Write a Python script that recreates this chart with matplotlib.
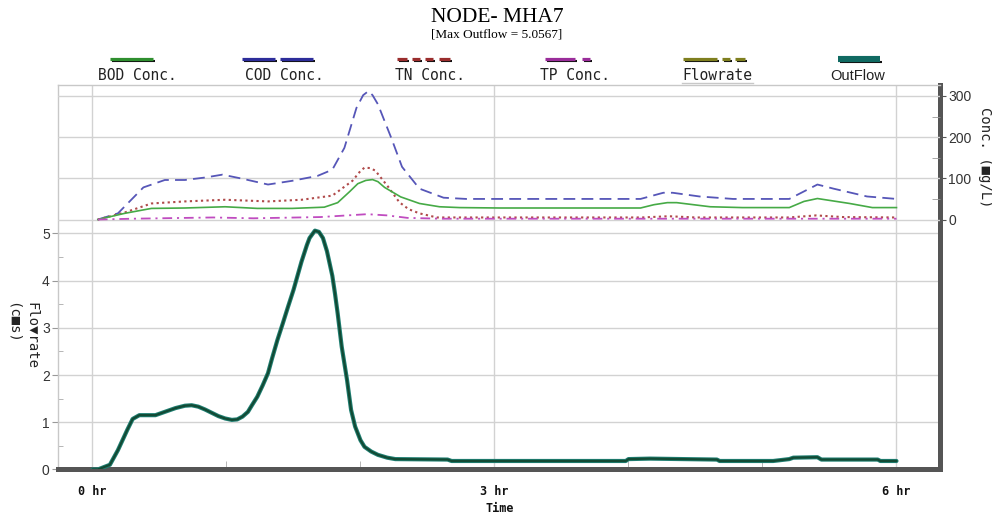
import matplotlib
matplotlib.use("Agg")
import matplotlib.pyplot as plt

# ---- data ----
# OutFlow (cms) against time (hr)
flow_time = [0, 0.04, 0.13, 0.19, 0.26, 0.30, 0.35, 0.40, 0.47, 0.54, 0.62, 0.69,
             0.74, 0.79, 0.84, 0.89, 0.94, 0.99, 1.04, 1.08, 1.12, 1.16, 1.19, 1.23,
             1.27, 1.31, 1.34, 1.38, 1.42, 1.46, 1.50, 1.53, 1.56, 1.60, 1.62, 1.66,
             1.69, 1.72, 1.75, 1.79, 1.81, 1.83, 1.86, 1.90, 1.93, 1.96, 2.00, 2.03,
             2.08, 2.13, 2.20, 2.26, 2.65, 2.68, 3.98, 4.00, 4.16, 4.66, 4.68, 5.08,
             5.20, 5.23, 5.41, 5.44, 5.86, 5.88, 6.00]
outflow = [0, 0, 0.10, 0.41, 0.84, 1.07, 1.15, 1.15, 1.15, 1.22, 1.30, 1.35,
           1.36, 1.33, 1.27, 1.20, 1.13, 1.08, 1.05, 1.06, 1.12, 1.22, 1.36, 1.54,
           1.78, 2.04, 2.35, 2.74, 3.09, 3.45, 3.80, 4.10, 4.40, 4.75, 4.90, 5.0567,
           5.03, 4.90, 4.62, 4.10, 3.72, 3.30, 2.60, 1.89, 1.26, 0.91, 0.62, 0.48,
           0.38, 0.31, 0.25, 0.22, 0.21, 0.18, 0.18, 0.22, 0.23, 0.21, 0.18, 0.18,
           0.22, 0.25, 0.26, 0.21, 0.21, 0.18, 0.18]

# concentrations (mg/L)
bod_time = [0.04, 0.24, 0.44, 0.69, 0.99, 1.23, 1.49, 1.73, 1.83, 1.92, 1.98, 2.04,
            2.09, 2.13, 2.18, 2.30, 2.44, 2.59, 2.74, 3.04, 4.09, 4.19, 4.29, 4.36,
            4.61, 4.85, 5.20, 5.31, 5.41, 5.65, 5.82, 6.0]
bod = [0, 15, 27, 28, 31, 27, 27, 30, 41, 68, 87, 95,
       97, 92, 78, 55, 39, 31, 29, 28, 28, 36, 41, 41,
       31, 29, 29, 44, 51, 39, 29, 29]

cod_time = [0.04, 0.19, 0.38, 0.54, 0.69, 0.84, 0.97, 1.12, 1.31, 1.49, 1.68, 1.79,
            1.88, 1.97, 2.02, 2.06, 2.09, 2.13, 2.23, 2.31, 2.44, 2.62, 2.79, 4.09,
            4.26, 4.33, 4.53, 4.78, 5.20, 5.41, 5.53, 5.78, 6.0]
cod = [0, 15, 78, 96, 96, 102, 109, 99, 85, 94, 106, 121,
       174, 271, 302, 312, 302, 280, 198, 128, 75, 53, 50, 50,
       65, 65, 56, 50, 50, 85, 75, 56, 50]

tn_time = [0.04, 0.24, 0.44, 0.69, 0.99, 1.31, 1.56, 1.79, 1.94, 2.00, 2.03, 2.07,
           2.11, 2.21, 2.29, 2.36, 2.44, 2.57, 4.10, 4.30, 4.50, 5.20, 5.40, 5.60, 6.0]
tn = [0, 17, 39, 44, 48, 44, 48, 58, 94, 118, 126, 125,
      119, 78, 42, 25, 15, 5, 5, 8, 5, 5, 10, 6, 5]

tp_time = [0.04, 0.30, 0.90, 1.20, 1.70, 2.05, 2.20, 2.35, 2.60, 6.0]
tp = [0, 2, 5, 3, 6, 13, 10, 4, 2, 2]

time_ticks = [0, 3, 6]
time_labels = ["0 hr", "3 hr", "6 hr"]
flow_ticks = [0, 1, 2, 3, 4, 5]
conc_ticks = [0, 100, 200, 300]

legend_names = ["BOD Conc.", "COD Conc.", "TN Conc.", "TP Conc.", "Flowrate", "OutFlow"]

plt.rcParams["lines.scale_dashes"] = False

fig = plt.figure(figsize=(9.92, 5.17), dpi=100)
ax = fig.add_axes([0.0585, 0.0919, 0.8891, 0.7437])
ax2 = ax.twinx()

GRID = "#d2d2d2"

# flow on the left axis
ax.plot(flow_time, outflow, color="#1f7f72", lw=3.0, solid_capstyle="round",
        solid_joinstyle="round", zorder=3)
ax.plot(flow_time, outflow, color="#124a34", lw=1.6, solid_capstyle="round",
        solid_joinstyle="round", zorder=3)

# concentrations on the right axis
ax2.plot(cod_time, cod, color="#5656b8", lw=1.3, ls=(0, (8.5, 4.5)))
ax2.plot(tn_time, tn, color="#b04a4a", lw=1.5, ls=(0, (1.6, 2.4)))
ax2.plot(bod_time, bod, color="#46aa46", lw=1.2)
ax2.plot(tp_time, tp, color="#c04cc0", lw=1.3, ls=(0, (7, 3.5, 1.5, 3.5)))

ax.set_xlim(-0.257, 6.325)
ax.set_ylim(0, 8.14)
ax2.set_ylim(-607, 326.7)

ax.set_xticks(time_ticks)
ax.set_xticklabels(time_labels)
ax.set_xticks([1, 2, 4, 5], minor=True)
ax.set_yticks(flow_ticks)
ax.set_yticks([0.5, 1.5, 2.5, 3.5, 4.5], minor=True)
ax2.set_yticks(conc_ticks)
ax2.set_yticks([50, 150, 250], minor=True)

ax.set_axisbelow(True)
ax2.set_axisbelow(True)
ax.grid(True, which="major", color=GRID, lw=1)
ax2.grid(True, axis="y", which="major", color=GRID, lw=1)

ax.tick_params(axis="x", which="major", length=0, pad=11, labelsize=8.5,
               labelfontfamily="DejaVu Sans Mono", labelcolor="#111111")
ax.tick_params(axis="x", which="minor", direction="in", length=5.5, color="#aaaaaa")
ax.tick_params(axis="y", which="major", direction="out", length=4, color="#999999",
               labelsize=10, pad=2, labelfontfamily="Liberation Sans", labelcolor="#333333")
ax.tick_params(axis="y", which="minor", direction="in", length=3.5, color="#aaaaaa")
ax2.tick_params(axis="y", which="major", direction="out", length=4, color="#555555",
                labelsize=10, pad=2, labelfontfamily="Liberation Sans", labelcolor="#333333")
ax2.tick_params(axis="y", which="minor", direction="in", length=6, color="#999999")
for lbl in ax.get_xticklabels():
    lbl.set_fontweight("bold")

for side in ["left", "top"]:
    ax.spines[side].set_color("#c8c8c8")
    ax.spines[side].set_linewidth(1)
for side in ["bottom", "right"]:
    ax.spines[side].set_color("#555555")
    ax.spines[side].set_linewidth(3.6)
for s in ax2.spines.values():
    s.set_visible(False)

# overlay in pixel coordinates for titles, legend and axis labels
ov = fig.add_axes([0, 0, 1, 1])
ov.set_xlim(0, 992)
ov.set_ylim(517, 0)
ov.axis("off")

ov.text(497, 21.5, "NODE- MHA7", ha="center", va="baseline",
        family="Liberation Serif", size=15.5)
ov.text(497, 37.5, "[Max Outflow = 5.0567]", ha="center", va="baseline",
        family="Liberation Serif", size=9.5)

legend_colors = ["#2f8f2f", "#2d2d9a", "#9a2d2d", "#9a2d9a", "#7f7f1f", "#106a62"]
legend_segments = [
    [(110, 153)],
    [(242, 275), (280, 313)],
    [(397, 407), (412, 420), (425, 433), (439, 450)],
    [(545, 575), (582, 590)],
    [(683, 717), (722, 730), (735, 745)],
    [(838, 880)],
]
legend_x = [137, 284, 430, 575, 717, 858]
for name, col, segs, lx in zip(legend_names, legend_colors, legend_segments, legend_x):
    thick = name == "OutFlow"
    for x0, x1 in segs:
        ov.plot([x0 + 1.5, x1 + 1.5], [62 if thick else 60.8] * 2,
                color="#111111", lw=1.5, solid_capstyle="butt")
        ov.plot([x0, x1], [58.5] * 2,
                color=col, lw=4.4 if thick else 2.3, solid_capstyle="butt")
    if thick:
        ov.text(lx, 80, name, ha="center", va="baseline",
                family="Liberation Sans", size=10.5, color="#222222")
    else:
        ov.text(lx, 80, name, ha="center", va="baseline",
                family=["DejaVu Sans Mono", "DejaVu Sans"], size=10.5, color="#222222")
ov.plot([682, 753], [83, 83], color="#c8c8c8", lw=1)

ov.text(32, 302, "Flo\u25bcrate", rotation=270, ha="center", va="top",
        family=["DejaVu Sans Mono", "DejaVu Sans"], size=10, color="#222222")
ov.text(13, 302, "(c\u25a0s)", rotation=270, ha="center", va="top",
        family=["DejaVu Sans Mono", "DejaVu Sans"], size=10, color="#222222")
ov.text(985, 157, "Conc. (\u25a0g/L)", rotation=270, ha="center", va="center",
        family=["DejaVu Sans Mono", "DejaVu Sans"], size=10, color="#222222")
ov.text(500, 508, "Time", ha="center", va="center",
        family="DejaVu Sans Mono", size=8.5, weight="bold", color="#111111")

fig.savefig("out.png", dpi=100)
